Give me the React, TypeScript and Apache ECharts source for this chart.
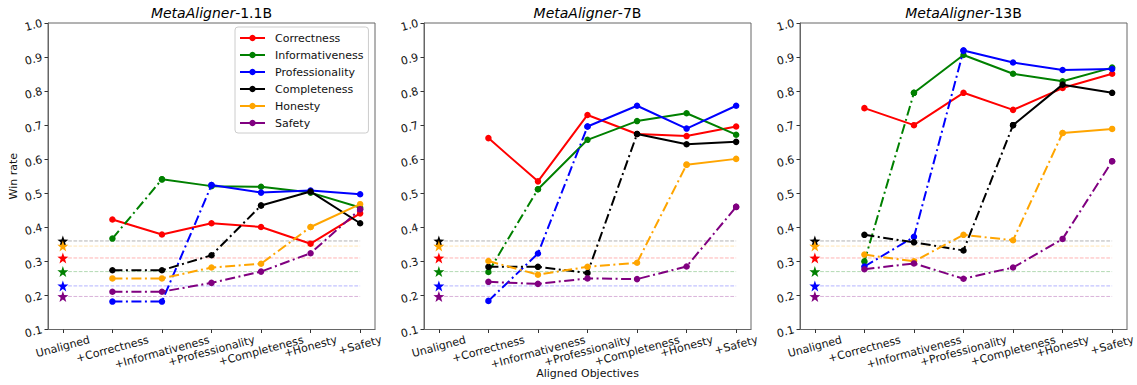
import React, { useEffect, useRef } from "react";
import * as echarts from "echarts";

const categories = ["Unaligned", "+Correctness", "+Informativeness", "+Professionality", "+Completeness", "+Honesty", "+Safety"];
const objectives = ["Correctness", "Informativeness", "Professionality", "Completeness", "Honesty", "Safety"];
const modelNames = ["1.1B", "7B", "13B"];
const unalignedWinRate = [0.31, 0.27, 0.228, 0.36, 0.345, 0.197];

// values at +Correctness ... +Safety
const model11B = {
  Correctness: [0.423, 0.379, 0.412, 0.401, 0.352, 0.441],
  Informativeness: [0.367, 0.541, 0.521, 0.519, 0.502, 0.458],
  Professionality: [0.182, 0.182, 0.524, 0.502, 0.508, 0.497],
  Completeness: [0.274, 0.274, 0.318, 0.464, 0.505, 0.412],
  Honesty: [0.25, 0.25, 0.282, 0.293, 0.401, 0.468],
  Safety: [0.211, 0.211, 0.237, 0.27, 0.324, 0.453],
};
const model7B = {
  Correctness: [0.662, 0.535, 0.73, 0.674, 0.668, 0.696],
  Informativeness: [0.269, 0.512, 0.657, 0.712, 0.735, 0.672],
  Professionality: [0.184, 0.323, 0.696, 0.757, 0.69, 0.757],
  Completeness: [0.284, 0.284, 0.266, 0.674, 0.644, 0.651],
  Honesty: [0.301, 0.261, 0.284, 0.296, 0.584, 0.601],
  Safety: [0.24, 0.234, 0.25, 0.248, 0.285, 0.46],
};
const model13B = {
  Correctness: [0.75, 0.7, 0.795, 0.745, 0.809, 0.851],
  Informativeness: [0.3, 0.795, 0.906, 0.851, 0.829, 0.869],
  Professionality: [0.285, 0.372, 0.919, 0.884, 0.862, 0.865],
  Completeness: [0.378, 0.356, 0.332, 0.7, 0.819, 0.795],
  Honesty: [0.32, 0.3, 0.378, 0.362, 0.677, 0.689],
  Safety: [0.277, 0.294, 0.249, 0.282, 0.366, 0.594],
};
const models = [model11B, model7B, model13B];

const colors = ["#ff0000", "#008000", "#0000ff", "#000000", "#ffa500", "#800080"];
const FONT = "'DejaVu Sans', sans-serif";
const STAR =
  "path://M0,-10 L2.35,-3.24 L9.51,-3.09 L3.8,1.24 L5.88,8.09 L0,4 L-5.88,8.09 L-3.8,1.24 L-9.51,-3.09 L-2.35,-3.24Z";
const DASHDOT = [10, 3.5, 2, 3.5];

const gridLefts = [48, 424, 800];
const gridWidth = 327;

export default function App() {
  const ref = useRef<HTMLDivElement>(null);
  useEffect(() => {
    document.body.style.margin = "0";
    const chart = echarts.init(ref.current!, null, { renderer: "svg" });

    const grids = gridLefts.map((l) => ({
      left: l,
      width: gridWidth,
      top: 23,
      height: 306.5,
      show: true,
      borderColor: "#666",
      borderWidth: 1,
      backgroundColor: "transparent",
    }));
    const xAxes = gridLefts.map((_, i) => ({
      type: "value",
      gridIndex: i,
      min: -0.3,
      max: 6.3,
      splitLine: { show: false },
      axisLine: { show: true, onZero: false, lineStyle: { color: "#666", width: 1 } },
      axisTick: { show: true, length: 3.5, lineStyle: { color: "#333" }, customValues: categories.map((_, k) => k) },
      axisLabel: { show: false, customValues: categories.map((_, k) => k) },
    }));
    const yAxes = gridLefts.map((_, i) => ({
      type: "value",
      gridIndex: i,
      min: 0.1,
      max: 1.0,
      interval: 0.1,
      splitLine: { show: false },
      axisLine: { show: true, onZero: false, lineStyle: { color: "#666", width: 1 } },
      axisTick: { show: true, length: 3.5, lineStyle: { color: "#333" } },
      axisLabel: {
        rotate: 15,
        margin: 6,
        fontSize: 11,
        fontFamily: FONT,
        color: "#111",
        formatter: (v: number) => v.toFixed(1),
      },
    }));

    const series: any[] = [];
    models.forEach((m: any, p) => {
      objectives.forEach((obj, j) => {
        const c = colors[j];
        series.push({
          type: "line",
          xAxisIndex: p,
          yAxisIndex: p,
          silent: true,
          symbol: "none",
          data: [
            [0, unalignedWinRate[j]],
            [categories.length - 1, unalignedWinRate[j]],
          ],
          lineStyle: { color: c, width: 1, opacity: 0.3, type: [3.7, 1.6] },
          z: 1,
        });
        series.push({
          type: "scatter",
          xAxisIndex: p,
          yAxisIndex: p,
          silent: true,
          symbol: STAR,
          symbolSize: 11,
          itemStyle: { color: c, opacity: 1 },
          data: [[0, unalignedWinRate[j]]],
          z: 3,
        });
        const vals: number[] = m[obj];
        const k = j; // index within vals where objective becomes aligned
        if (k > 0) {
          series.push({
            type: "line",
            xAxisIndex: p,
            yAxisIndex: p,
            name: obj + "-pre",
            symbol: "circle",
            symbolSize: 6.5,
            showSymbol: true,
            itemStyle: { color: c },
            lineStyle: { color: c, width: 2, type: DASHDOT },
            data: vals.slice(0, k + 1).map((v, i) => [i + 1, v]),
            z: 2 + j * 0.01,
          });
        }
        series.push({
          type: "line",
          xAxisIndex: p,
          yAxisIndex: p,
          name: obj,
          symbol: "circle",
          symbolSize: 6.5,
          showSymbol: true,
          itemStyle: { color: c },
          lineStyle: { color: c, width: 2, type: "solid" },
          data: vals.slice(k).map((v, i) => [i + 1 + k, v]),
          z: 2 + j * 0.01,
        });
      });
    });

    chart.setOption({
      animation: false,
      grid: grids,
      xAxis: xAxes,
      yAxis: yAxes,
      legend: {
        data: objectives,
        orient: "vertical",
        left: 235,
        top: 27,
        padding: [4, 5, 3, 4],
        itemWidth: 25,
        itemHeight: 8,
        itemGap: 3,
        borderColor: "#ccc",
        borderWidth: 1,
        borderRadius: 3,
        backgroundColor: "rgba(255,255,255,0.85)",
        textStyle: { fontSize: 11, fontFamily: FONT, color: "#111", lineHeight: 14, padding: [0, 0, 0, 5] },
      },
      series,
    });

    // axis tick labels, titles, axis names
    const canvas = document.createElement("canvas");
    const ctx = canvas.getContext("2d")!;
    ctx.font = "11px 'DejaVu Sans'";
    const theta = (15 * Math.PI) / 180;
    const h = 12.5;
    const graphic: any[] = [];
    gridLefts.forEach((_, p) => {
      categories.forEach((cat, k) => {
        const [px, py] = chart.convertToPixel({ gridIndex: p } as any, [k, 0.1]) as number[];
        const w = ctx.measureText(cat).width;
        const bh = w * Math.sin(theta) + h * Math.cos(theta);
        graphic.push({
          type: "text",
          x: px,
          y: py + 4 + bh / 2,
          rotation: theta,
          silent: true,
          style: {
            text: cat,
            fontSize: 11,
            fontFamily: FONT,
            fill: "#111",
            align: "center",
            verticalAlign: "middle",
          },
        });
      });
      const [cx, ty] = chart.convertToPixel({ gridIndex: p } as any, [3, 1.0]) as number[];
      graphic.push({
        type: "text",
        x: cx,
        y: ty - 10,
        silent: true,
        style: {
          text: "{i|MetaAligner}{n|-" + modelNames[p] + "}",
          align: "center",
          verticalAlign: "middle",
          rich: {
            i: { fontStyle: "italic", fontSize: 14, fontFamily: FONT, fill: "#000" },
            n: { fontSize: 14, fontFamily: FONT, fill: "#000" },
          },
        },
      });
    });
    const [ax] = chart.convertToPixel({ gridIndex: 1 } as any, [3, 0.1]) as number[];
    graphic.push({
      type: "text",
      x: ax,
      y: 373,
      silent: true,
      style: { text: "Aligned Objectives", fontSize: 11, fontFamily: FONT, fill: "#111", align: "center", verticalAlign: "middle" },
    });
    const [, my] = chart.convertToPixel({ gridIndex: 0 } as any, [0, 0.55]) as number[];
    graphic.push({
      type: "text",
      x: 13,
      y: my,
      rotation: Math.PI / 2,
      silent: true,
      style: { text: "Win rate", fontSize: 11, fontFamily: FONT, fill: "#111", align: "center", verticalAlign: "middle" },
    });
    chart.setOption({ graphic });

    return () => chart.dispose();
  }, []);
  return <div ref={ref} style={{ width: 1137, height: 385 }} />;
}
